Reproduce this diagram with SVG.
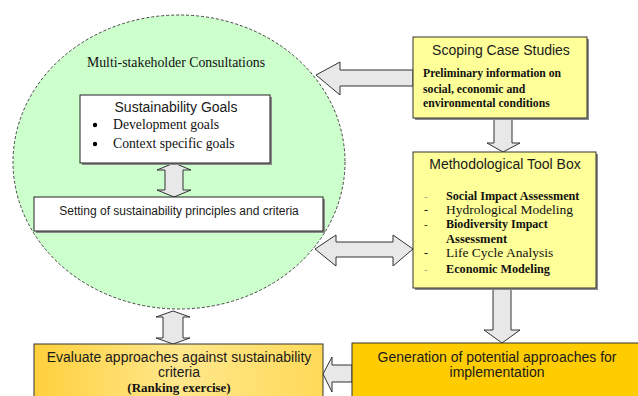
<svg xmlns="http://www.w3.org/2000/svg" width="638" height="396" viewBox="0 0 638 396">
  <defs>
    <linearGradient id="goldFade" x1="0" y1="0" x2="1" y2="0">
      <stop offset="0" stop-color="#ffd03c"/>
      <stop offset="0.5" stop-color="#ffe78c"/>
      <stop offset="1" stop-color="#ffda58"/>
    </linearGradient>
    <style>
      .sans { font-family: "Liberation Sans", Arial, sans-serif; fill: #1a1a1a; }
      .serif { font-family: "Liberation Serif", "Times New Roman", serif; fill: #111; }
      .arrow { fill: #e8e8e8; stroke: #333; stroke-width: 1; stroke-linejoin: miter; }
      .shadow { fill: #8a8a8a; }
      .note { fill: #ffff99; stroke: #333; stroke-width: 1; }
      .plain { fill: #ffffff; stroke: #222; stroke-width: 1; }
    </style>
  </defs>

  <rect width="638" height="396" fill="#ffffff"/>

  <!-- stakeholder consultation area -->
  <g id="consultations">
    <ellipse cx="179" cy="162" rx="166" ry="147" fill="#ccffcc" stroke="#444" stroke-width="1" stroke-dasharray="3 2"/>
    <text class="serif" x="176" y="67" font-size="13.8" text-anchor="middle">Multi-stakeholder Consultations</text>
  </g>

  <!-- connectors -->
  <g id="connectors">
    <polygon class="arrow" points="316,75 340,62 340,70 413,70 413,86 340,86 340,95"/>
    <polygon class="arrow" points="494,118 512,118 512,143 520,143 503,152 487,143 494,143"/>
    <polygon class="arrow" points="315,249 336,235 336,242 393,242 393,235 413,249 393,266 393,257 336,257 336,266"/>
    <polygon class="arrow" points="493,288 511,288 511,330 520,330 502,343 484,330 493,330"/>
    <polygon class="arrow" points="323,374 332,357 332,365 352,365 352,382 332,382 332,392"/>
    <polygon class="arrow" points="173,311 190,317 183,317 183,338 190,338 173,344 156,338 163,338 163,317 156,317"/>
    <polygon class="arrow" points="174,163 191,170 183,170 183,190 191,190 174,197 157,190 165,190 165,170 157,170"/>
  </g>

  <g id="sustainability-goals">
    <rect class="shadow" x="82" y="97" width="190" height="68"/>
    <rect class="plain" x="80" y="95" width="190" height="68"/>
    <text class="sans" x="176" y="112" font-size="14" text-anchor="middle">Sustainability Goals</text>
    <circle cx="95" cy="125" r="2.2" fill="#000"/>
    <circle cx="95" cy="144" r="2.2" fill="#000"/>
    <text class="serif" x="113" y="129" font-size="13.7">Development goals</text>
    <text class="serif" x="113" y="148" font-size="13.7">Context specific goals</text>
  </g>

  <g id="principles-criteria">
    <rect class="shadow" x="36" y="199" width="289" height="34"/>
    <rect class="plain" x="34" y="197" width="289" height="34"/>
    <text class="sans" x="179" y="215" font-size="12" text-anchor="middle">Setting of sustainability principles and criteria</text>
  </g>

  <g id="scoping-case-studies">
    <rect class="shadow" x="415" y="39" width="174" height="81"/>
    <rect class="note" x="413" y="37" width="174" height="81"/>
    <text class="sans" x="501" y="55" font-size="14" text-anchor="middle">Scoping Case Studies</text>
    <text class="serif" x="423" y="77" font-size="11.7" font-weight="bold">Preliminary information on</text>
    <text class="serif" x="423" y="93" font-size="11.7" font-weight="bold">social, economic and</text>
    <text class="serif" x="423" y="107" font-size="11.7" font-weight="bold">environmental conditions</text>
  </g>

  <g id="tool-box">
    <rect class="shadow" x="415" y="154" width="183" height="136"/>
    <rect class="note" x="413" y="152" width="183" height="136"/>
    <text class="sans" x="505" y="169" font-size="14" text-anchor="middle">Methodological Tool Box</text>
    <g class="serif">
      <text x="424" y="200" font-size="11" fill="#999">-</text>
      <text x="446" y="200" font-size="12.2" font-weight="bold">Social Impact Assessment</text>
      <text x="424" y="214" font-size="12">-</text>
      <text x="446" y="214" font-size="13.5">Hydrological Modeling</text>
      <text x="424" y="228" font-size="11">-</text>
      <text x="446" y="228" font-size="12" font-weight="bold">Biodiversity Impact</text>
      <text x="446" y="243" font-size="12.5" font-weight="bold">Assessment</text>
      <text x="424" y="257" font-size="12">-</text>
      <text x="446" y="257" font-size="13.5">Life Cycle Analysis</text>
      <text x="424" y="273" font-size="11" fill="#999">-</text>
      <text x="446" y="273" font-size="12.2" font-weight="bold">Economic Modeling</text>
    </g>
  </g>

  <g id="evaluate-approaches">
    <rect x="34" y="344" width="289" height="60" fill="url(#goldFade)" stroke="#333" stroke-width="1"/>
    <text class="sans" x="179" y="362" font-size="14" text-anchor="middle" fill="#222">Evaluate approaches against sustainability</text>
    <text class="sans" x="179" y="377" font-size="14" text-anchor="middle" fill="#222">criteria</text>
    <text class="serif" x="179" y="392" font-size="13" font-weight="bold" text-anchor="middle">(Ranking exercise)</text>
  </g>

  <g id="generation-approaches">
    <rect x="352" y="343" width="290" height="60" fill="#ffcc00" stroke="#333" stroke-width="1"/>
    <text class="sans" x="497" y="362" font-size="14" text-anchor="middle" fill="#2a2a2a">Generation of potential approaches for</text>
    <text class="sans" x="497" y="377" font-size="14" text-anchor="middle" fill="#2a2a2a">implementation</text>
  </g>
</svg>
